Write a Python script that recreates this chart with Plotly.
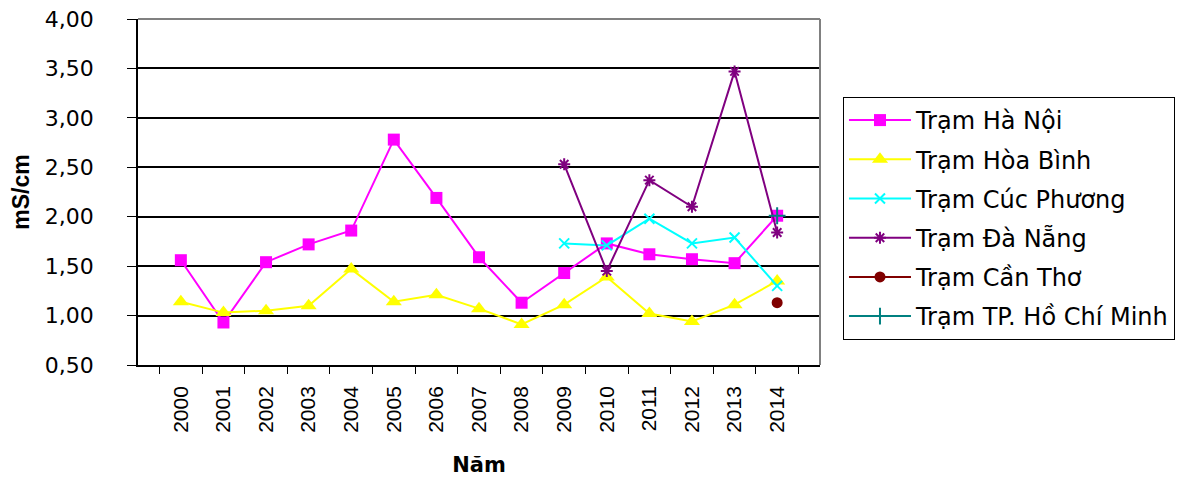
import plotly.graph_objects as go

years = [str(y) for y in range(2000, 2015)]

ha_noi = [1.56, 0.93, 1.54, 1.72, 1.86, 2.78, 2.19, 1.59, 1.13, 1.43, 1.73, 1.62, 1.57, 1.53, 2.01]
hoa_binh = [1.14, 1.03, 1.05, 1.10, 1.47, 1.14, 1.21, 1.07, 0.91, 1.11, 1.39, 1.02, 0.94, 1.11, 1.35]
cuc_phuong = [None] * 9 + [1.73, 1.71, 1.98, 1.73, 1.79, 1.30]
da_nang = [None] * 9 + [2.53, 1.45, 2.37, 2.10, 3.47, 1.84]
can_tho = [None] * 14 + [1.13]
hcm = [None] * 14 + [2.01]

series = [
    ("Trạm Hà Nội", ha_noi, "#FF00FF", dict(symbol="square", size=12)),
    ("Trạm Hòa Bình", hoa_binh, "#FFFF00", dict(symbol="triangle-up", size=14)),
    ("Trạm Cúc Phương", cuc_phuong, "#00FFFF", dict(symbol="x-thin", size=10, line=dict(width=2, color="#00FFFF"))),
    ("Trạm Đà Nẵng", da_nang, "#800080", dict(symbol="asterisk", size=10, line=dict(width=2, color="#800080"))),
    ("Trạm Cần Thơ", can_tho, "#800000", dict(symbol="circle", size=11)),
    ("Trạm TP. Hồ Chí Minh", hcm, "#008080", dict(symbol="cross-thin", size=12, line=dict(width=2, color="#008080"))),
]

WIDE = "DejaVu Sans, Arial, sans-serif"
ARIAL = "Arial, Liberation Sans, sans-serif"

fig = go.Figure()
for i, (name, vals, color, mk) in enumerate(series):
    mk = dict(mk)
    mk["color"] = color
    fig.add_trace(go.Scatter(
        x=years, y=vals, name=name, mode="lines+markers",
        line=dict(color=color, width=2), marker=mk,
        legendgroup=f"g{i}", connectgaps=False,
    ))

fig.update_layout(
    width=1182, height=469,
    margin=dict(l=130, r=370, t=11, b=112),
    paper_bgcolor="white", plot_bgcolor="white",
    separators=", ",
    font=dict(family=WIDE, size=22, color="black"),
    showlegend=True,
    legend=dict(
        x=1.0337, y=0.7746, xanchor="left", yanchor="top",
        bordercolor="black", borderwidth=1, bgcolor="white",
        font=dict(size=24, family=WIDE), tracegroupgap=5, itemwidth=62,
    ),
    xaxis=dict(
        type="category", tickangle=-90, showgrid=False, automargin=False,
        ticks="outside", tickson="boundaries", ticklen=7, tickcolor="black",
        showline=True, linecolor="black", linewidth=1.5,
        ticklabelstandoff=11,
        title=dict(text="<b>Năm</b>", font=dict(size=21, family=WIDE), standoff=26),
        tickfont=dict(size=21, family=ARIAL),
    ),
    yaxis=dict(
        range=[0.5, 4.0], dtick=0.5, tick0=0.5, tickformat=".2f", automargin=False,
        showgrid=True, gridcolor="black", gridwidth=1.5,
        ticks="outside", ticklen=9, tickcolor="black",
        showline=True, linecolor="black", linewidth=1.5,
        ticklabelstandoff=29, zeroline=False, ticklabeloverflow="allow",
        title=dict(text="<b>mS/cm</b>", font=dict(size=23, family=ARIAL), standoff=10),
        tickfont=dict(size=22, family=WIDE),
    ),
    shapes=[dict(type="line", xref="paper", yref="paper", x0=0, x1=1, y0=1, y1=1,
                 line=dict(color="#808080", width=2)),
            dict(type="line", xref="paper", yref="paper", x0=1, x1=1, y0=0, y1=1,
                 line=dict(color="#808080", width=2))],
)

fig.write_html("out.html")
